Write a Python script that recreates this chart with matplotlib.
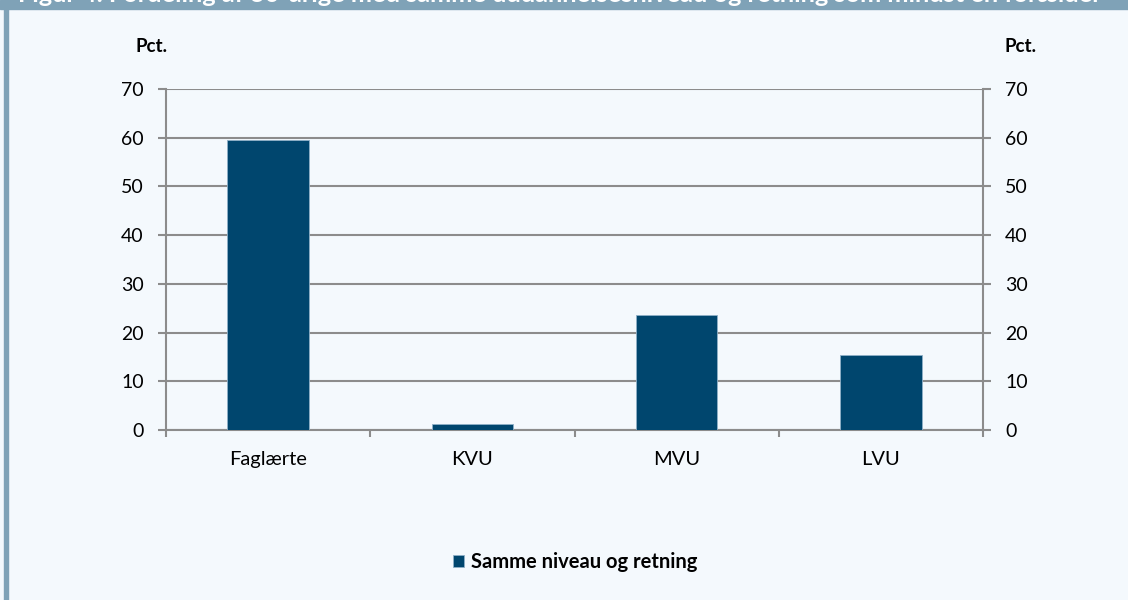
import matplotlib.pyplot as plt
from matplotlib.patches import Rectangle

categories = ["Faglærte", "KVU", "MVU", "LVU"]
values = [59.5, 1.2, 23.7, 15.4]
series_name = "Samme niveau og retning"
yticks = [0, 10, 20, 30, 40, 50, 60, 70]
title = "Figur 4. Fordeling af 30-årige med samme uddannelsesniveau og retning som mindst én forælder"

bg = "#f4f9fd"
frame_col = "#7fa2b7"
bar_col = "#00466e"
grid_col = "#8c8c8c"

plt.rcParams["font.family"] = ["Lato", "DejaVu Sans"]

fig = plt.figure(figsize=(11.28, 6), dpi=100, facecolor=bg)

# frame: top band with (cut off) title, left bar
fig.patches.append(Rectangle((0, 1 - 9 / 600), 1, 9 / 600, transform=fig.transFigure,
                             color=frame_col, zorder=0))
fig.patches.append(Rectangle((4 / 1128, 0), 4 / 1128, 1, transform=fig.transFigure,
                             color=frame_col, zorder=0))
fig.text(18 / 1128, 1 + 6 / 600, title, color="white", fontsize=18.3, fontweight="bold",
         va="center", ha="left")

ax = fig.add_axes([166 / 1128, 170 / 600, 817 / 1128, 341 / 600])
ax.set_facecolor(bg)
x = list(range(len(categories)))
ax.bar(x, values, width=0.4, color=bar_col, edgecolor="#8fb0c8", linewidth=0.6,
       zorder=3, label=series_name)

ax.set_xlim(-0.5, len(categories) - 0.5)
ax.set_ylim(0, 70)
ax.set_yticks(yticks)
ax.set_xticks(x)
ax.set_xticklabels(categories)
ax.set_xticks([i - 0.5 for i in range(len(categories) + 1)], minor=True)
ax.tick_params(axis="x", which="major", length=0, pad=15, labelsize=14.5)
ax.tick_params(axis="x", which="minor", length=5, width=1.5, color=grid_col, direction="out")
ax.tick_params(axis="y", length=6, width=1.5, color=grid_col, labelsize=14, pad=10)
ax.grid(axis="y", color=grid_col, linewidth=1.5, zorder=1)
for s in ["left", "right", "bottom"]:
    ax.spines[s].set_color(grid_col)
    ax.spines[s].set_linewidth(1.5)
ax.spines["top"].set_visible(False)

ax2 = ax.twinx()
ax2.set_ylim(0, 70)
ax2.set_yticks(yticks)
ax2.tick_params(axis="y", length=6, width=1.5, color=grid_col, labelsize=14, pad=10)
for s in ["left", "right", "bottom", "top"]:
    ax2.spines[s].set_visible(False)

fig.text(151 / 1128, 1 - 47 / 600, "Pct.", fontsize=13.5, fontweight="bold", ha="center", va="center")
fig.text(1021 / 1128, 1 - 47 / 600, "Pct.", fontsize=13.5, fontweight="bold", ha="center", va="center")

handles, labels = ax.get_legend_handles_labels()
leg = fig.legend(handles, labels, loc="center", bbox_to_anchor=(575 / 1128, 1 - 562 / 600),
                 frameon=False, handlelength=0.55, handleheight=0.55, handletextpad=0.35,
                 prop={"weight": "bold", "size": 14.5})

fig.savefig("out.png", dpi=100, facecolor=bg)
